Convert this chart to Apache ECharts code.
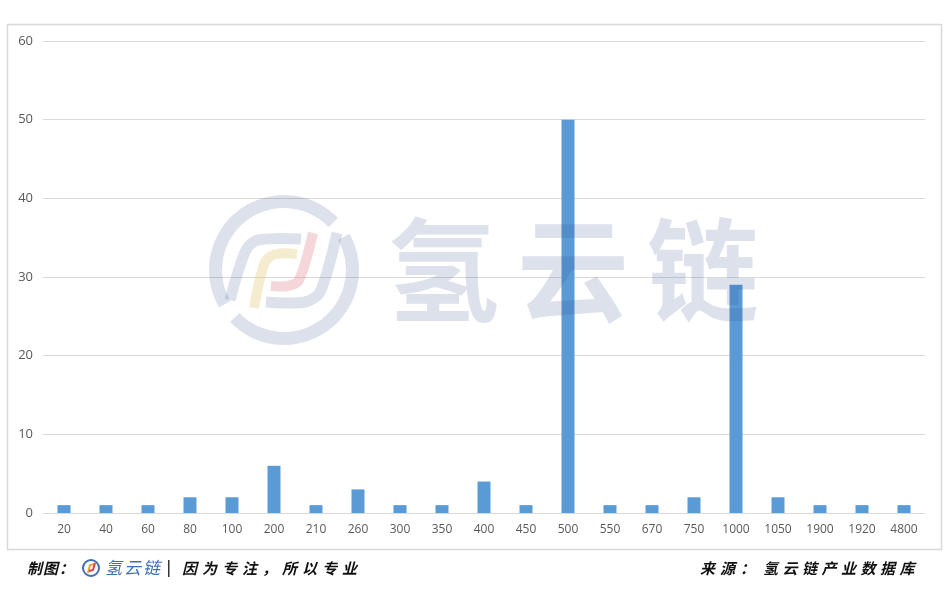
<!DOCTYPE html>
<html><head><meta charset="utf-8">
<script src="https://cdn.jsdelivr.net/npm/echarts@6/dist/echarts.min.js"></script>
<style>html,body{margin:0;padding:0;background:#fff}#c{width:949px;height:596px}</style>
</head><body><div id="c"></div>
<script>
const categories = ['20','40','60','80','100','200','210','260','300','350','400','450','500','550','670','750','1000','1050','1900','1920','4800'];
const counts = [1,1,1,2,2,6,1,3,1,1,4,1,50,1,1,2,29,2,1,1,1];
const yTicks = [0,10,20,30,40,50,60];

const chart = echarts.init(document.getElementById('c'));
const WM = 'rgba(47,79,143,0.17)';
function chars(str, x0, step, y, font, fill, align, z) {
  return str.split('').map((ch, i) => ({
    type: 'text', z: z || 50, style: { text: ch, x: x0 + i * step, y: y, font: font, fill: fill, textAlign: align || 'left', textVerticalAlign: 'middle' }
  }));
}
const footFont = 'italic bold 15px "Noto Sans CJK SC"';
const graphics = [
  { type: 'rect', z: 0, shape: { x: 7.5, y: 24.5, width: 934, height: 525 }, style: { fill: 'none', stroke: '#d9d9d9', lineWidth: 1.5 } },
  // watermark logo
  { type: 'sector', z: 100, shape: { cx: 284, cy: 270, r: 75, r0: 62, startAngle: 150 * Math.PI / 180, endAngle: 316 * Math.PI / 180, clockwise: true }, style: { fill: WM } },
  { type: 'sector', z: 100, shape: { cx: 284, cy: 270, r: 75, r0: 62, startAngle: 331 * Math.PI / 180, endAngle: 496 * Math.PI / 180, clockwise: true }, style: { fill: WM } },
  { type: 'polyline', z: 100, shape: { points: [[230, 300], [246, 250], [258, 240], [301, 239]], smooth: 0.3 }, style: { stroke: WM, lineWidth: 11, fill: 'none' } },
  { type: 'polyline', z: 100, shape: { points: [[254, 308], [265, 262], [276, 254], [297, 254]], smooth: 0.3 }, style: { stroke: 'rgba(225,200,120,0.35)', lineWidth: 10, fill: 'none' } },
  { type: 'polyline', z: 100, shape: { points: [[313, 233], [299, 280], [288, 286], [271, 286]], smooth: 0.3 }, style: { stroke: 'rgba(220,120,135,0.3)', lineWidth: 10, fill: 'none' } },
  { type: 'polyline', z: 100, shape: { points: [[337, 233], [320, 292], [305, 302], [266, 302]], smooth: 0.3 }, style: { stroke: WM, lineWidth: 11, fill: 'none' } },
  // footer small logo
  { type: 'circle', z: 50, shape: { cx: 91, cy: 568, r: 8 }, style: { fill: 'none', stroke: '#3e6fb8', lineWidth: 2 } },
  { type: 'polyline', z: 50, shape: { points: [[88, 573], [90, 565], [95, 564]] }, style: { stroke: '#e8a33c', lineWidth: 2, fill: 'none' } },
  { type: 'polyline', z: 50, shape: { points: [[95, 563], [93, 570], [89, 571]] }, style: { stroke: '#d8404f', lineWidth: 2, fill: 'none' } },
  { type: 'rect', z: 50, shape: { x: 168, y: 560, width: 1.5, height: 17 }, style: { fill: '#333' } }
].concat(
  chars('氢云链', 443, 130, 270, 'bold 112px "Noto Sans CJK SC"', WM, 'center', 100),
  chars('制图：', 27, 16, 568, footFont, '#111'),
  chars('氢云链', 105, 19, 568, 'italic 17px "Noto Sans CJK SC"', '#3e6fb8'),
  chars('因为专注，所以专业', 182, 20, 568, footFont, '#111'),
  chars('来源：', 700, 20, 568, footFont, '#111'),
  chars('氢云链产业数据库', 763, 19.5, 568, footFont, '#111')
);

chart.setOption({
  animation: false,
  grid: { left: 43, top: 41, width: 882, height: 472, containLabel: false },
  xAxis: {
    type: 'category', data: categories,
    axisLine: { lineStyle: { color: '#d9d9d9', width: 1 } },
    axisTick: { show: false },
    axisLabel: { color: '#595959', fontSize: 12, fontFamily: 'Open Sans', margin: 11 }
  },
  yAxis: {
    type: 'value', min: yTicks[0], max: yTicks[yTicks.length - 1], interval: 10,
    axisLine: { show: false }, axisTick: { show: false },
    splitLine: { lineStyle: { color: '#d9d9d9', width: 1 } },
    axisLabel: { color: '#595959', fontSize: 13, fontFamily: 'Open Sans', margin: 10 }
  },
  series: [{
    type: 'bar', data: counts, barWidth: 13,
    itemStyle: { color: '#5b9bd5' }
  }],
  graphic: graphics
});
</script></body></html>
